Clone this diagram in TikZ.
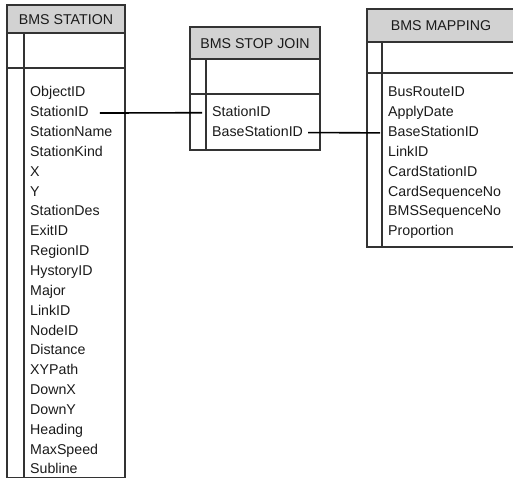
\documentclass[tikz,border=0pt]{standalone}
\usepackage{fontspec}
\setmainfont{Liberation Sans}
\definecolor{framegray}{HTML}{333333}
\definecolor{headgray}{HTML}{D2D2D2}
\definecolor{textdark}{HTML}{1A1A1A}
\usetikzlibrary{positioning}

\begin{document}
\begin{tikzpicture}[
  x=1pt, y=-1pt,
  node distance=0pt,
  frame/.style={draw=framegray, line width=1.2pt},
  title/.style={inner sep=0pt, text height=10.2pt, text depth=0pt, text=textdark, font=\fontsize{14.2}{17}\selectfont},
  field/.style={anchor=north west, inner sep=0pt, minimum height=19.45pt, text height=10.2pt, text depth=3pt, text=textdark, font=\fontsize{14.2}{17}\selectfont},
  link/.style={draw=black, line width=1.6pt},
]
\useasboundingbox (0,0) rectangle (513,480);

% BMS STATION
\fill[headgray] (7,5) rectangle (125,33);
\draw[frame] (7,5) rectangle (125,477.5);
\draw[frame] (7,33) -- (125,33);
\draw[frame] (7,68) -- (125,68);
\draw[frame] (24,33) -- (24,477.5);
\node[title] (sthead) at (66,19.5) {BMS STATION};
\node[field] (s1) at (30,83.3) {ObjectID};
\node[below=of s1.south west, field] (s2) {StationID};
\node[below=of s2.south west, field] (s3) {StationName};
\node[below=of s3.south west, field] (s4) {StationKind};
\node[below=of s4.south west, field] (s5) {X};
\node[below=of s5.south west, field] (s6) {Y};
\node[below=of s6.south west, field] (s7) {StationDes};
\node[below=of s7.south west, field] (s8) {ExitID};
\node[below=of s8.south west, field] (s9) {RegionID};
\node[below=of s9.south west, field] (s10) {HystoryID};
\node[below=of s10.south west, field] (s11) {Major};
\node[below=of s11.south west, field] (s12) {LinkID};
\node[below=of s12.south west, field] (s13) {NodeID};
\node[below=of s13.south west, field] (s14) {Distance};
\node[below=of s14.south west, field] (s15) {XYPath};
\node[below=of s15.south west, field] (s16) {DownX};
\node[below=of s16.south west, field] (s17) {DownY};
\node[below=of s17.south west, field] (s18) {Heading};
\node[below=of s18.south west, field] (s19) {MaxSpeed};
\node[below=of s19.south west, field] (s20) {Subline};

% BMS STOP JOIN
\fill[headgray] (190,27) rectangle (320,59);
\draw[frame] (190,27) rectangle (320,150);
\draw[frame] (190,59) -- (320,59);
\draw[frame] (190,94) -- (320,94);
\draw[frame] (206,59) -- (206,150);
\node[title] (jhead) at (255,43) {BMS STOP JOIN};
\node[field] (j1) at (212,102.75) {StationID};
\node[below=of j1.south west, field] (j2) {BaseStationID};

% BMS MAPPING
\fill[headgray] (367,9) rectangle (515,42);
\draw[frame] (367,9) rectangle (515,247);
\draw[frame] (367,42) -- (515,42);
\draw[frame] (367,73) -- (515,73);
\draw[frame] (382,42) -- (382,247);
\node[title] (mhead) at (441,25.5) {BMS MAPPING};
\node[field] (m1) at (388,83.3) {BusRouteID};
\node[below=of m1.south west, field] (m2) {ApplyDate};
\node[below=of m2.south west, field] (m3) {BaseStationID};
\node[below=of m3.south west, field] (m4) {LinkID};
\node[below=of m4.south west, field] (m5) {CardStationID};
\node[below=of m5.south west, field] (m6) {CardSequenceNo};
\node[below=of m6.south west, field] (m7) {BMSSequenceNo};
\node[below=of m7.south west, field] (m8) {Proportion};

\draw[link, shorten <=11pt, shorten >=10pt] (s2.east) -- (j1.west);
\draw[link, shorten <=5pt, shorten >=8pt] (j2.east) -- (m3.west);
\end{tikzpicture}
\end{document}
